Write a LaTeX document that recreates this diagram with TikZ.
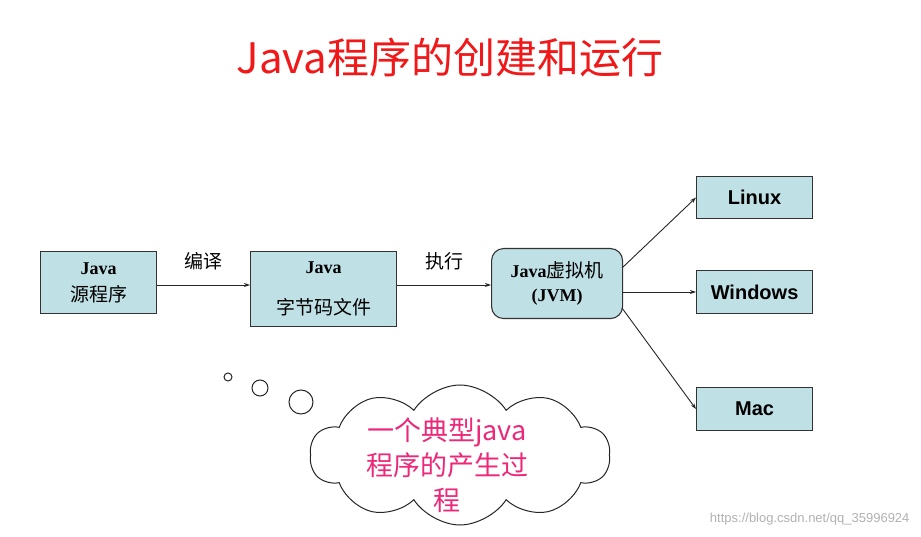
\documentclass[tikz,border=0pt]{standalone}
\usepackage{fontspec}
\setmainfont{Liberation Serif}
\setsansfont{Liberation Sans}
\newfontfamily\cjk{Noto Sans CJK SC}
\usetikzlibrary{shapes.symbols,arrows.meta}
\definecolor{boxfill}{HTML}{BFE0E4}
\definecolor{titlered}{HTML}{F01818}
\definecolor{pinktxt}{HTML}{EE2878}
\tikzset{
  boxnode/.style={draw=black!80, line width=1.1pt, fill=boxfill, inner sep=0pt, anchor=north west, align=center},
  osbox/.style={boxnode, font=\sffamily\bfseries\fontsize{20}{24}\selectfont},
  conn/.style={draw=black!85, line width=0.9pt, -{Stealth[length=6pt,width=4pt]}},
  lbl/.style={font=\cjk\fontsize{19}{21}\selectfont},
  bubble/.style={draw=black!85, line width=1pt, circle, inner sep=0pt}
}
\newcommand{\jv}[1]{{\bfseries\fontsize{18}{22}\selectfont #1}}
\newcommand{\zh}[1]{{\cjk\fontsize{19}{22}\selectfont #1}}
\begin{document}
\begin{tikzpicture}[x=1pt,y=-1pt]
\useasboundingbox (0,0) rectangle (921,537);
\fill[white] (0,0) rectangle (921,537);
% title
\node (title) at (450,58) {\cjk\color{titlered}\fontsize{42}{46}\selectfont Java程序的创建和运行};
% main boxes
\node[boxnode, minimum width=116pt, minimum height=62pt] (src) at (40,251)
  {\jv{Java}\\[10pt]\zh{源程序}};
\node[boxnode, minimum width=146pt, minimum height=75pt] (byte) at (250,251)
  {\jv{Java}\\[24pt]\zh{字节码文件}};
\node[boxnode, rounded corners=12pt, minimum width=131pt, minimum height=70pt] (jvm) at (491,248)
  {\jv{Java}\zh{虚拟机}\\[9pt]\jv{(JVM)}};
\node[osbox, minimum width=116pt, minimum height=42pt] (linux) at (696,176) {Linux};
\node[osbox, minimum width=116pt, minimum height=43pt] (win) at (696,270) {Windows};
\node[osbox, minimum width=116pt, minimum height=43pt] (mac) at (696,387) {Mac};
% connectors
\draw[conn] (src.east |- 0,285) -- (byte.west |- 0,285) node[midway, lbl, above=11pt] (l1) {编译};
\draw[conn] (byte.east |- 0,285) -- (jvm.west |- 0,285) node[midway, lbl, above=11pt] (l2) {执行};
\coordinate (j1) at (622,268);
\coordinate (j2) at (622,292);
\coordinate (j3) at (622,308);
\draw[conn] (j1) -- (linux.west);
\draw[conn] (j2) -- (win.west |- j2);
\draw[conn] (j3) -- (mac.west);
% cloud
\node[cloud, draw=black!85, line width=1pt, fill=white, cloud puffs=10, cloud puff arc=115, aspect=2.2, minimum width=300pt, minimum height=140pt] (cloud) at (460,455) {};
\node[bubble, minimum size=8pt] (b1) at (228,377) {};
\node[bubble, minimum size=16pt] (b2) at (260,388) {};
\node[bubble, minimum size=24pt] (b3) at (301,402) {};
\node[align=center, text=pinktxt, font=\cjk\fontsize{27}{35}\selectfont] (ctext) at (447,465) {一个典型java\\程序的产生过\\程};
% watermark
\node[text=black!30, font=\sffamily\fontsize{13}{15}\selectfont, anchor=east] (wm) at (913,519) {https://blog.csdn.net/qq\_35996924};
\end{tikzpicture}
\end{document}
